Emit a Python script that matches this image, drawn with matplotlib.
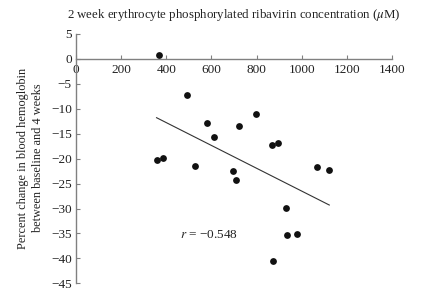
import matplotlib
matplotlib.use("Agg")
import matplotlib.pyplot as plt

plt.rcParams['font.family'] = ['Liberation Serif', 'DejaVu Serif']
plt.rcParams['mathtext.fontset'] = 'stix'

# erythrocyte phosphorylated ribavirin (uM) vs % change in hemoglobin
conc = [366, 490, 357, 387, 527, 579, 610, 696, 707, 721, 799, 867, 893,
        1069, 1122, 932, 933, 979, 873]
hgb_change = [0.7, -7.3, -20.2, -19.9, -21.4, -12.9, -15.7, -22.4, -24.2,
              -13.5, -11.0, -17.2, -16.9, -21.7, -22.3, -29.9, -35.3, -35.1,
              -40.6]

# trend line endpoints
trend_x = [357, 1122]
trend_y = [-11.8, -29.3]

fig = plt.figure(figsize=(4.22, 3.08), dpi=100)
ax = fig.add_axes([0.180, 0.080, 0.749, 0.810])

ax.scatter(conc, hgb_change, s=24, color='#111111', zorder=3, linewidths=0)
ax.plot(trend_x, trend_y, color='#333333', lw=0.8)

ax.set_xlim(0, 1400)
ax.set_ylim(-45, 5)
ax.set_xticks(range(0, 1401, 200))
ax.set_yticks(range(-45, 6, 5))
ax.set_yticklabels([str(v).replace('-', '\u2212') for v in range(-45, 6, 5)])

ax.spines['top'].set_visible(False)
ax.spines['right'].set_visible(False)
ax.spines['bottom'].set_position(('data', 0))
for s in ('left', 'bottom'):
    ax.spines[s].set_color('#808080')
    ax.spines[s].set_linewidth(1.0)
ax.tick_params(direction='in', length=3, color='#808080', labelsize=9.5,
               labelcolor='#222222', pad=3)
ax.tick_params(axis='x', pad=4)

ax.text(589, -35.3, '$r$ = \u22120.548', fontsize=9.5, ha='center', va='center',
        color='#222222')

fig.text(0.555, 0.950, '2 week erythrocyte phosphorylated ribavirin concentration ($\\mu$M)',
         ha='center', va='center', fontsize=9.3, color='#222222')
fig.text(0.072, 0.487, 'Percent change in blood hemoglobin\nbetween baseline and 4 weeks',
         rotation=90, ha='center', va='center', fontsize=8.8, color='#222222',
         linespacing=1.35)

fig.savefig('out.png', dpi=100)
